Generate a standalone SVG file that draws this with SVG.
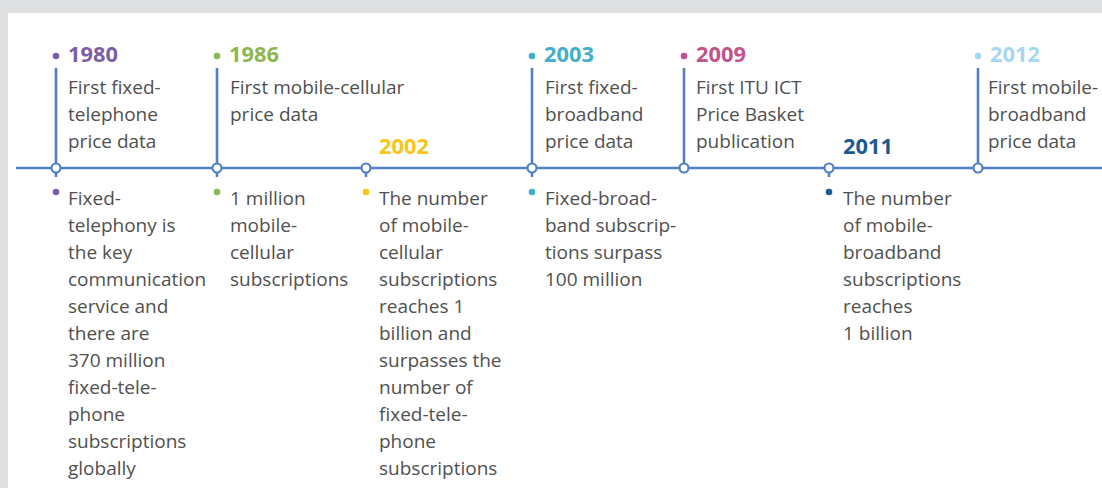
<svg xmlns="http://www.w3.org/2000/svg" width="1102" height="488" viewBox="0 0 1102 488">
<style>
.t{font-family:"Open Sans","Noto Sans",sans-serif;font-size:19px;fill:#505050}
.y{font-family:"Open Sans","Noto Sans",sans-serif;font-size:21.8px;font-weight:bold}
.ln{stroke:#4f81c4;stroke-width:2.6;fill:none}
.node circle.c{fill:#fff;stroke:#4f81c4;stroke-width:2.2}
</style>
<rect x="0" y="0" width="1102" height="488" fill="#dedfe1"/>
<rect x="8" y="13" width="1094" height="475" fill="#fff"/>
<g id="connectors">
<line class="ln" x1="16" y1="168" x2="1102" y2="168"/>
<line class="ln" x1="56" y1="68" x2="56" y2="177"/>
<line class="ln" x1="217" y1="68" x2="217" y2="177"/>
<line class="ln" x1="366" y1="168" x2="366" y2="177"/>
<line class="ln" x1="532" y1="68" x2="532" y2="177"/>
<line class="ln" x1="684" y1="68" x2="684" y2="168"/>
<line class="ln" x1="829" y1="168" x2="829" y2="177"/>
<line class="ln" x1="978" y1="68" x2="978" y2="168"/>
</g>
<g id="n1980" class="node">
<circle class="c" cx="56" cy="168" r="4.5"/>
<circle cx="56" cy="56" r="3.3" fill="#7b5ea6"/>
<text class="y" x="68" y="62" fill="#7b5ea6">1980</text>
<text class="t" x="68" y="94">First fixed-</text>
<text class="t" x="68" y="121">telephone</text>
<text class="t" x="68" y="148">price data</text>
<circle cx="56" cy="192" r="3.3" fill="#7b5ea6"/>
<text class="t" x="68" y="205">Fixed-</text>
<text class="t" x="68" y="232">telephony is</text>
<text class="t" x="68" y="259">the key</text>
<text class="t" x="68" y="286">communication</text>
<text class="t" x="68" y="313">service and</text>
<text class="t" x="68" y="340">there are</text>
<text class="t" x="68" y="367">370 million</text>
<text class="t" x="68" y="394">fixed-tele-</text>
<text class="t" x="68" y="421">phone</text>
<text class="t" x="68" y="448">subscriptions</text>
<text class="t" x="68" y="475">globally</text>
</g>
<g id="n1986" class="node">
<circle class="c" cx="217" cy="168" r="4.5"/>
<circle cx="217" cy="56" r="3.3" fill="#8db74e"/>
<text class="y" x="229" y="62" fill="#8db74e">1986</text>
<text class="t" x="230" y="94">First mobile-cellular</text>
<text class="t" x="230" y="121">price data</text>
<circle cx="217" cy="192" r="3.3" fill="#8db74e"/>
<text class="t" x="230" y="205">1 million</text>
<text class="t" x="230" y="232">mobile-</text>
<text class="t" x="230" y="259">cellular</text>
<text class="t" x="230" y="286">subscriptions</text>
</g>
<g id="n2002" class="node">
<circle class="c" cx="366" cy="168" r="4.5"/>
<text class="y" x="379" y="154" fill="#f6c518">2002</text>
<circle cx="366" cy="192" r="3.3" fill="#f6c518"/>
<text class="t" x="379" y="205">The number</text>
<text class="t" x="379" y="232">of mobile-</text>
<text class="t" x="379" y="259">cellular</text>
<text class="t" x="379" y="286">subscriptions</text>
<text class="t" x="379" y="313">reaches 1</text>
<text class="t" x="379" y="340">billion and</text>
<text class="t" x="379" y="367">surpasses the</text>
<text class="t" x="379" y="394">number of</text>
<text class="t" x="379" y="421">fixed-tele-</text>
<text class="t" x="379" y="448">phone</text>
<text class="t" x="379" y="475">subscriptions</text>
</g>
<g id="n2003" class="node">
<circle class="c" cx="532" cy="168" r="4.5"/>
<circle cx="532" cy="56" r="3.3" fill="#41afc9"/>
<text class="y" x="544" y="62" fill="#41afc9">2003</text>
<text class="t" x="545" y="94">First fixed-</text>
<text class="t" x="545" y="121">broadband</text>
<text class="t" x="545" y="148">price data</text>
<circle cx="532" cy="192" r="3.3" fill="#41afc9"/>
<text class="t" x="545" y="205">Fixed-broad-</text>
<text class="t" x="545" y="232">band subscrip-</text>
<text class="t" x="545" y="259">tions surpass</text>
<text class="t" x="545" y="286">100 million</text>
</g>
<g id="n2009" class="node">
<circle class="c" cx="684" cy="168" r="4.5"/>
<circle cx="684" cy="56" r="3.3" fill="#c2528b"/>
<text class="y" x="696" y="62" fill="#c2528b">2009</text>
<text class="t" x="696" y="94">First ITU ICT</text>
<text class="t" x="696" y="121">Price Basket</text>
<text class="t" x="696" y="148">publication</text>
</g>
<g id="n2011" class="node">
<circle class="c" cx="829" cy="168" r="4.5"/>
<text class="y" x="843" y="154" fill="#1b5a8e">2011</text>
<circle cx="829" cy="192" r="3.3" fill="#1b5a8e"/>
<text class="t" x="843" y="205">The number</text>
<text class="t" x="843" y="232">of mobile-</text>
<text class="t" x="843" y="259">broadband</text>
<text class="t" x="843" y="286">subscriptions</text>
<text class="t" x="843" y="313">reaches</text>
<text class="t" x="843" y="340">1 billion</text>
</g>
<g id="n2012" class="node">
<circle class="c" cx="978" cy="168" r="4.5"/>
<circle cx="978" cy="56" r="3.3" fill="#a6d6f1"/>
<text class="y" x="990" y="62" fill="#a6d6f1">2012</text>
<text class="t" x="988" y="94">First mobile-</text>
<text class="t" x="988" y="121">broadband</text>
<text class="t" x="988" y="148">price data</text>
</g>
</svg>
